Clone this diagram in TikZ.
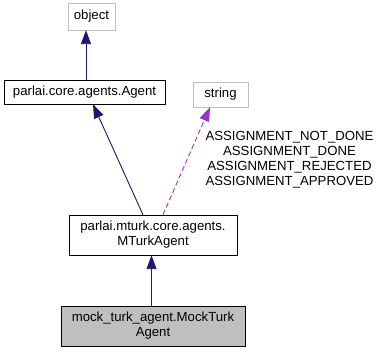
\documentclass[tikz,border=0pt]{standalone}
\usepackage{fontspec}
\setmainfont{Liberation Sans}
\usetikzlibrary{calc,arrows.meta}
\definecolor{edgeblue}{HTML}{191970}
\definecolor{edgepurple}{HTML}{9A32CD}
\definecolor{boxgray}{HTML}{BFBFBF}
\tikzset{
  cls/.style={draw=black, fill=white, rectangle, inner sep=0pt, align=center,
    font=\fontsize{13.2}{15}\selectfont},
  extcls/.style={cls, draw=boxgray},
  curcls/.style={cls, fill=boxgray},
  inherit/.style={draw=edgeblue, line width=0.9pt, -{Triangle[length=14pt,width=10pt]}},
  usage/.style={draw=edgepurple, line width=0.9pt, dash pattern=on 5pt off 3pt,
    -{Triangle[length=14pt,width=10pt]}},
  lbl/.style={align=center, inner sep=0pt, font=\fontsize{13.2}{15}\selectfont}
}
\begin{document}
\begin{tikzpicture}[x=1pt,y=-1pt]
\useasboundingbox (0,0) rectangle (381,352);
\node[extcls, minimum width=47pt, minimum height=27pt] (object) at (91.5,16.5) {object};
\node[cls, minimum width=161pt, minimum height=24pt] (agent) at (84.5,92) {parlai.core.agents.Agent};
\node[extcls, minimum width=55pt, minimum height=25pt] (string) at (220.5,94.5) {string};
\node[cls, minimum width=168pt, minimum height=40pt] (mturk) at (153,235) {parlai.mturk.core.agents.\\MTurkAgent};
\node[curcls, minimum width=184pt, minimum height=40pt] (mock) at (153,326) {mock\_turk\_agent.MockTurk\\Agent};
\draw[inherit] ($(agent.north)+(1.5,0)$) -- ($(object.south)+(-5.5,0)$);
\draw[inherit] ($(mturk.north)+(-10,0)$) -- ($(agent.south)+(8.5,0)$);
\draw[inherit] ($(mock.north)+(-1.5,0)$) -- ($(mturk.south)+(-1.5,0)$);
\draw[usage] ($(mturk.north)+(10,0)$) -- ($(string.south)+(-10.5,0)$);
\node[lbl] (names) at (289.5,160) {ASSIGNMENT\_NOT\_DONE\\ASSIGNMENT\_DONE\\ASSIGNMENT\_REJECTED\\ASSIGNMENT\_APPROVED};
\end{tikzpicture}
\end{document}
